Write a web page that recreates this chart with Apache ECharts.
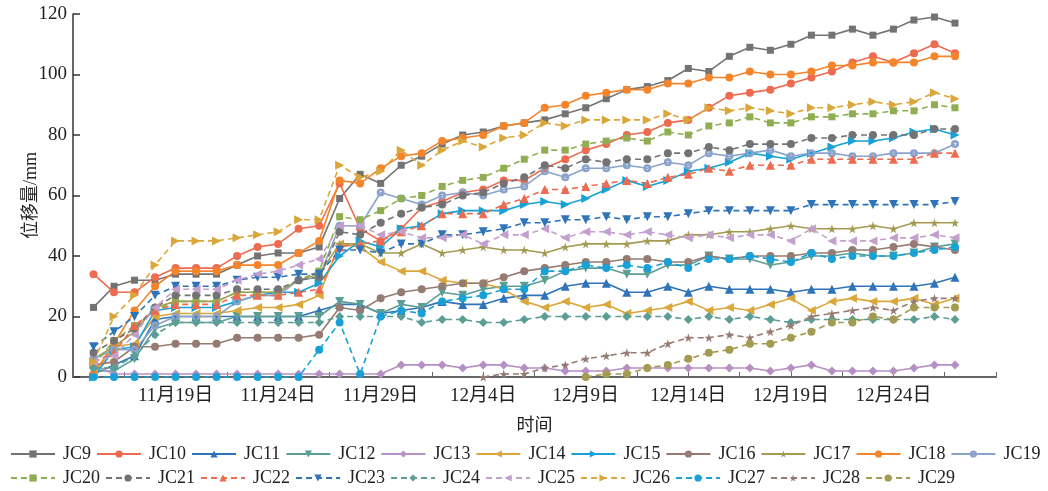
<!DOCTYPE html>
<html><head><meta charset="utf-8">
<script src="https://cdn.jsdelivr.net/npm/echarts@6/dist/echarts.min.js"></script>
<style>html,body{margin:0;padding:0;background:#fff}#c{width:1048px;height:491px}</style>
</head><body><div id="c"></div>
<script>
const dates = ['11月15日','11月16日','11月17日','11月18日','11月19日','11月20日','11月21日','11月22日','11月23日','11月24日','11月25日','11月26日','11月27日','11月28日','11月29日','11月30日','12月1日','12月2日','12月3日','12月4日','12月5日','12月6日','12月7日','12月8日','12月9日','12月10日','12月11日','12月12日','12月13日','12月14日','12月15日','12月16日','12月17日','12月18日','12月19日','12月20日','12月21日','12月22日','12月23日','12月24日','12月25日','12月26日','12月27日'];
const yTicks = [0,20,40,60,80,100,120];
const names = ['JC9','JC10','JC11','JC12','JC13','JC14','JC15','JC16','JC17','JC18','JC19','JC20','JC21','JC22','JC23','JC24','JC25','JC26','JC27','JC28','JC29'];
const _ = null;
const JC9  = [23,30,32,32,34,34,34,37,40,41,41,43,59,67,64,70,73,77,80,81,83,84,85,87,89,92,95,96,98,102,101,106,109,108,110,113,113,115,113,115,118,119,117];
const JC10 = [34,28,28,33,36,36,36,40,43,44,49,50,64,49,45,49,56,58,61,62,65,65,69,72,75,77,80,81,84,85,89,93,94,95,97,99,101,104,106,104,107,110,107];
const JC11 = [1,4,7,19,20,20,20,20,20,20,20,22,24,24,21,22,23,25,24,24,26,27,27,30,31,31,28,28,30,28,30,29,29,29,28,29,29,30,30,30,30,31,33];
const JC12 = [2,2,6,16,18,18,18,20,20,20,20,20,25,24,21,24,23,28,27,29,30,30,32,35,36,36,34,34,37,37,40,39,39,37,38,40,40,41,40,40,41,43,44];
const JC13 = [4,1,1,1,1,1,1,1,1,1,1,1,1,1,1,4,4,4,3,4,4,3,3,2,2,2,3,3,3,3,3,3,3,2,3,4,2,2,2,2,3,4,4];
const JC14 = [1,10,11,20,21,21,21,22,23,23,24,27,44,43,38,35,35,32,31,31,29,25,23,25,23,24,21,22,23,25,22,23,22,24,26,22,25,26,25,25,26,24,26];
const JC15 = [0,9,10,22,23,23,23,25,27,28,28,31,40,45,43,49,50,54,55,55,55,57,58,57,59,62,65,63,65,68,69,71,74,73,72,74,76,78,78,79,81,82,80];
const JC16 = [4,5,10,10,11,11,11,13,13,13,13,14,23,22,26,28,29,30,31,31,33,35,36,37,38,38,39,39,38,38,40,39,40,40,40,41,41,42,42,43,44,43,42];
const JC17 = [6,10,15,23,25,25,25,28,28,28,32,34,44,44,41,41,44,41,42,43,42,42,41,43,44,44,44,45,45,47,47,48,48,49,50,49,49,49,50,49,51,51,51];
const JC18 = [1,11,22,30,35,35,35,37,37,37,41,45,65,64,69,73,74,78,79,80,83,84,89,90,93,94,95,95,97,97,99,99,101,100,100,101,103,103,104,104,104,106,106];
const JC19 = [6,9,9,17,20,20,20,25,27,27,32,33,50,50,61,59,57,60,61,60,62,63,68,66,69,69,70,69,71,70,74,73,74,75,73,74,74,73,73,74,74,74,77];
const JC20 = [4,12,17,22,25,25,25,28,28,28,32,35,53,52,55,59,60,63,65,66,69,72,75,75,77,78,79,78,81,80,83,84,86,84,84,86,86,87,87,88,88,90,89];
const JC21 = [8,12,16,23,27,27,27,29,29,29,32,33,48,47,51,54,56,57,60,61,64,66,70,69,72,71,72,72,74,74,76,75,77,77,77,79,79,80,80,80,80,82,82];
const JC22 = [5,8,17,22,24,24,24,27,27,27,28,29,43,44,45,48,50,54,54,54,57,59,62,62,63,64,65,64,66,67,69,68,70,70,70,72,72,72,72,72,72,74,74];
const JC23 = [10,15,20,27,30,30,30,32,33,33,34,34,42,42,41,44,44,47,47,48,49,51,51,52,52,53,52,53,53,54,55,55,55,55,55,57,57,57,57,57,57,57,58];
const JC24 = [3,3,7,14,18,18,18,18,18,18,18,18,20,20,20,20,18,19,19,18,18,19,20,20,20,20,20,20,20,19,20,19,20,19,18,19,19,19,19,19,19,20,19];
const JC25 = [5,7,14,23,29,29,29,32,34,35,37,39,50,50,47,48,46,46,47,44,47,47,49,46,48,48,47,48,47,46,47,46,47,47,45,49,45,45,45,46,46,47,46];
const JC26 = [5,20,27,37,45,45,45,46,47,48,52,52,70,66,68,75,70,75,78,76,79,80,84,83,85,85,85,85,87,85,89,88,89,88,87,89,89,90,91,90,91,94,92];
const JC27 = [0,0,0,0,0,0,0,0,0,0,0,9,18,1,20,22,21,25,26,27,29,29,35,35,37,36,37,36,38,36,39,39,40,39,38,41,39,40,40,40,41,42,43];
const JC28 = [_,_,_,_,_,_,_,_,_,_,_,_,_,_,_,_,_,_,_,0,1,1,3,4,6,7,8,8,11,13,13,14,13,15,17,20,21,22,23,22,25,26,26];
const JC29 = [_,_,_,_,_,_,_,_,_,_,_,_,_,_,_,_,_,_,_,_,_,_,_,_,0,1,1,3,4,6,8,9,11,11,13,15,18,18,20,19,23,23,23];
const values = [JC9,JC10,JC11,JC12,JC13,JC14,JC15,JC16,JC17,JC18,JC19,JC20,JC21,JC22,JC23,JC24,JC25,JC26,JC27,JC28,JC29];

const STAR = 'path://M50,0 L61,35 L98,35 L68,57 L79,91 L50,70 L21,91 L32,57 L2,35 L39,35 Z';
const RING = 'path://M50,0 A50,50 0 1 1 49.99,0 Z M50,32 A18,18 0 1 0 50.01,32 Z';
const styles = [
 {c:'#737373', s:'rect', z:7},
 {c:'#ee6b4f', s:'circle', z:8},
 {c:'#2f73b8', s:'triangle', z:9},
 {c:'#5c9e95', s:'triangle', r:180, z:9},
 {c:'#b690c3', s:'diamond', z:9},
 {c:'#dba73a', s:'triangle', r:90, z:9},
 {c:'#18a1d6', s:'triangle', r:-90, z:9},
 {c:'#957b72', s:'circle', z:8},
 {c:'#a39b52', s:STAR, z:9},
 {c:'#f5842a', s:'circle', z:8},
 {c:'#8aa3cb', s:RING, z:8},
 {c:'#8fae52', s:'rect', z:7, d:true},
 {c:'#737373', s:'circle', z:8, d:true},
 {c:'#ee6b4f', s:'triangle', z:9, d:true},
 {c:'#2f73b8', s:'triangle', r:180, z:9, d:true},
 {c:'#5c9e95', s:'diamond', z:9, d:true},
 {c:'#c29fcc', s:'triangle', r:90, z:9, d:true},
 {c:'#dba73a', s:'triangle', r:-90, z:9, d:true},
 {c:'#18a1d6', s:'circle', z:8, d:true},
 {c:'#957b72', s:STAR, z:9, d:true},
 {c:'#a39b52', s:'circle', z:8, d:true}
];

const FONT = '"Liberation Serif","Noto Sans CJK SC",serif';

const series = names.map((n, k) => {
  const st = styles[k];
  return {
    name: n,
    type: 'line',
    data: values[k].map((v, i) => [i + 1, v]),
    symbol: st.s,
    symbolRotate: st.r || 0,
    symbolSize: st.z,
    showSymbol: true,
    connectNulls: false,
    animation: false,
    lineStyle: {color: st.c, width: 1.6, type: st.d ? [6, 4] : 'solid'},
    itemStyle: {color: st.c, borderColor: st.c, borderWidth: 0},
    emphasis: {disabled: true}
  };
});

const legendBase = {
  left: 5, padding: [5, 5, 5, 5], itemWidth: 44, itemHeight: 9, itemGap: 5, width: 1100,
  textStyle: {fontFamily: FONT, fontSize: 18, color: '#222', padding: [0, 0, 0, 3]},
  selectedMode: false
};

const chart = echarts.init(document.getElementById('c'), null, {renderer: 'canvas'});
chart.setOption({
  backgroundColor: '#fff',
  animation: false,
  grid: {left: 73, right: 52, top: 14, bottom: 114, containLabel: false},
  xAxis: {
    type: 'value', min: 0, max: 45, interval: 2.5,
    name: '时间', nameLocation: 'middle', nameGap: 40,
    nameTextStyle: {fontFamily: FONT, fontSize: 18, color: '#222'},
    axisLine: {show: true, onZero: false, lineStyle: {color: '#666', width: 2}},
    axisTick: {show: true, inside: true, length: 5, lineStyle: {color: '#666', width: 1}},
    axisLabel: {
      fontFamily: FONT, fontSize: 19, color: '#222', margin: 10,
      showMinLabel: true, showMaxLabel: true,
      formatter: v => (Math.abs(v % 5) < 1e-6 && dates[v - 1]) ? dates[v - 1] : ''
    },
    splitLine: {show: false}
  },
  yAxis: {
    type: 'value', min: yTicks[0], max: yTicks[yTicks.length - 1], interval: 20,
    name: '位移量/mm', nameLocation: 'middle', nameGap: 33, nameMoveOverlap: false,
    nameTextStyle: {fontFamily: FONT, fontSize: 18, color: '#222'},
    axisLine: {show: true, lineStyle: {color: '#333', width: 1.5}},
    axisTick: {show: true, inside: true, length: 7, lineStyle: {color: '#333', width: 1.5}},
    axisLabel: {fontFamily: FONT, fontSize: 19, color: '#222', margin: 6},
    splitLine: {show: false}
  },
  legend: [
    Object.assign({}, legendBase, {top: 440, data: names.slice(0, 11)}),
    Object.assign({}, legendBase, {top: 464, data: names.slice(11)})
  ],
  series: series
});
</script></body></html>
